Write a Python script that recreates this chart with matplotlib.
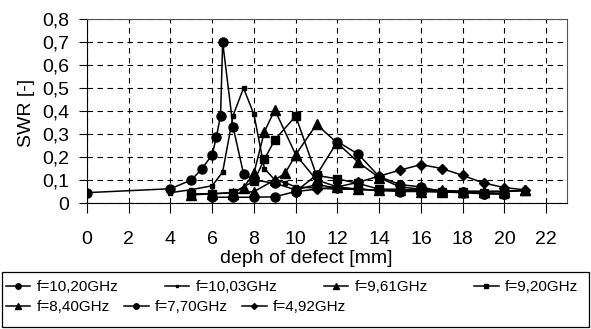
import matplotlib
matplotlib.use("Agg")
import matplotlib.pyplot as plt
from matplotlib.patches import Rectangle

plt.rcParams["font.family"] = ["Liberation Sans", "DejaVu Sans"]

# depth of defect [mm] and SWR [-] per frequency
x_1020 = [0, 4, 5, 5.5, 6, 6.2, 6.4, 6.5, 7, 7.5, 8, 9, 10, 11, 12, 13, 14, 15, 16, 17, 18, 19, 20]
y_1020 = [0.045, 0.062, 0.10, 0.148, 0.21, 0.288, 0.38, 0.70, 0.33, 0.128, 0.10, 0.086, 0.057, 0.08, 0.065, 0.06, 0.055, 0.05, 0.05, 0.048, 0.045, 0.04, 0.04]

x_1003 = [4, 5, 6, 6.5, 7, 7.5, 8, 8.5, 9, 9.5, 10, 11, 12, 13, 14, 15, 16, 17, 18, 19, 20, 21]
y_1003 = [0.045, 0.058, 0.075, 0.135, 0.38, 0.50, 0.385, 0.15, 0.10, 0.088, 0.07, 0.065, 0.06, 0.06, 0.055, 0.055, 0.055, 0.05, 0.05, 0.05, 0.05, 0.055]

x_961 = [5, 6, 7, 7.5, 8, 8.5, 9, 10, 11, 12, 13, 14, 15, 16, 17, 18, 19, 20, 21]
y_961 = [0.035, 0.04, 0.045, 0.067, 0.13, 0.31, 0.405, 0.21, 0.10, 0.07, 0.06, 0.055, 0.055, 0.05, 0.05, 0.05, 0.05, 0.05, 0.055]

x_920 = [5, 6, 7, 8, 8.5, 9, 10, 11, 12, 13, 14, 15, 16, 17, 18, 19, 20]
y_920 = [0.04, 0.04, 0.045, 0.095, 0.19, 0.275, 0.378, 0.12, 0.105, 0.085, 0.06, 0.06, 0.055, 0.05, 0.05, 0.045, 0.04]

x_840 = [7, 8, 9, 9.5, 10, 11, 12, 13, 14, 15, 16, 17, 18, 19, 20, 21]
y_840 = [0.04, 0.05, 0.10, 0.13, 0.21, 0.342, 0.26, 0.177, 0.11, 0.07, 0.06, 0.055, 0.05, 0.05, 0.05, 0.055]

x_770 = [6, 7, 8, 9, 10, 11, 12, 13, 14, 15, 16, 17, 18, 19, 20]
y_770 = [0.025, 0.025, 0.025, 0.027, 0.05, 0.122, 0.267, 0.212, 0.115, 0.08, 0.07, 0.05, 0.05, 0.04, 0.04]

x_492 = [10, 11, 12, 13, 14, 15, 16, 17, 18, 19, 20, 21]
y_492 = [0.05, 0.06, 0.07, 0.09, 0.117, 0.143, 0.167, 0.15, 0.12, 0.087, 0.067, 0.057]

labels = ["f=10,20GHz", "f=10,03GHz", "f=9,61GHz", "f=9,20GHz", "f=8,40GHz", "f=7,70GHz", "f=4,92GHz"]
x_ticks = list(range(0, 23, 2))
y_ticks = [0, 0.1, 0.2, 0.3, 0.4, 0.5, 0.6, 0.7, 0.8]

series = [
    (x_1020, y_1020, "o", 6.5),
    (x_1003, y_1003, "s", 3.5),
    (x_961, y_961, "^", 7),
    (x_920, y_920, "s", 5.5),
    (x_840, y_840, "^", 7),
    (x_770, y_770, "o", 6.5),
    (x_492, y_492, "D", 5),
]

W, H = 591, 329
fig = plt.figure(figsize=(W / 100, H / 100), dpi=100)
ax = fig.add_axes([87 / W, 1 - 203 / H, 480 / W, 184 / H])

handles = []
for (xs, ys, mk, ms), lab in zip(series, labels):
    h, = ax.plot(xs, ys, color="black", linewidth=1.1, marker=mk, markersize=ms, label=lab)
    handles.append(h)

ax.set_xlim(0, 23)
ax.set_ylim(0, 0.8)
ax.set_xticks(x_ticks)
ax.set_yticks(y_ticks)
ax.set_yticklabels([("%.1f" % v).replace(".", ",") if v else "0" for v in y_ticks])
ax.grid(True, color="black", linestyle=(0, (5, 4)), linewidth=0.8)
ax.tick_params(axis="x", direction="out", length=7, pad=13.5, labelsize=14)
ax.tick_params(axis="y", direction="out", length=6, pad=7, labelsize=14)
for side in ["top", "right"]:
    ax.spines[side].set_color("#555555")

ax.set_ylabel("SWR [-]", fontsize=14)
ax.yaxis.set_label_coords(-0.108, 0.49)
ax.set_xlabel("deph of defect [mm]", fontsize=14)
ax.xaxis.set_label_coords((306 - 87) / 480, -0.255)

# legend box: two rows laid out like the spreadsheet legend
leg_kw = dict(fontsize=11, frameon=False, handlelength=1.6, handletextpad=0.4,
              columnspacing=0.5, borderaxespad=0.0, borderpad=0.0, markerscale=0.6, mode="expand")
leg1 = fig.legend(handles[:4], labels[:4], ncol=4, loc="center left",
                  bbox_to_anchor=(6 / W, 1 - 287 / H, 572 / W, 0.0), **leg_kw)
leg2 = fig.legend(handles[4:], labels[4:], ncol=3, loc="center left",
                  bbox_to_anchor=(6 / W, 1 - 307 / H, 340 / W, 0.0), **leg_kw)
fig.add_artist(Rectangle((2 / W, 1 - 327 / H), 587 / W, 55 / H, transform=fig.transFigure,
                         fill=False, edgecolor="black", linewidth=0.9))

fig.savefig("out.png", dpi=100)
